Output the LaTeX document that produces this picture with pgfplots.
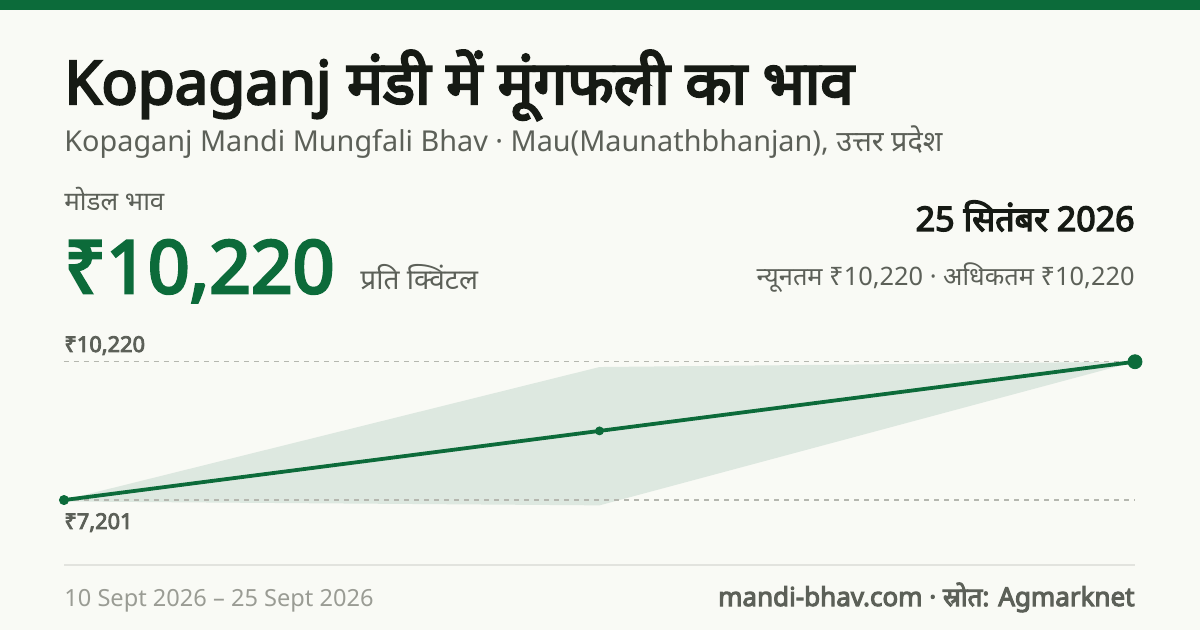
\documentclass[border=0pt]{standalone}
\usepackage{pgfplots}
\pgfplotsset{compat=1.18}
\usepackage{fontspec}
\setmainfont{Noto Sans}[AutoFakeBold=4]
\newfontfamily\dv{Noto Sans}[Script=Devanagari,AutoFakeBold=4]

\definecolor{bgc}{HTML}{F9FAF5}
\definecolor{grn}{HTML}{0C6B3A}
\definecolor{ttl}{HTML}{161A14}
\definecolor{sub}{HTML}{5C6058}
\definecolor{band}{HTML}{DDE8E0}
\definecolor{dashc}{HTML}{B5B7AF}
\definecolor{rule}{HTML}{E2E3DE}
\definecolor{foot}{HTML}{9A9C94}

\begin{document}
\begin{tikzpicture}[x=0.5pt,y=-0.5pt]
  % canvas 1200 x 630 px, 1px = 0.5pt
  \fill[bgc] (0,0) rectangle (1200,630);
  \fill[grn] (0,0) rectangle (1200,10);

  \node[anchor=base west,inner sep=0,text=ttl] at (64,104)
    {\fontsize{30}{32}\selectfont\bfseries Kopaganj {\dv मंडी में मूंगफली का भाव}};
  \node[anchor=base west,inner sep=0,text=sub] at (64,152)
    {\fontsize{14.4}{16}\selectfont Kopaganj Mandi Mungfali Bhav · Mau(Maunathbhanjan), {\dv उत्तर प्रदेश}};
  \node[anchor=base west,inner sep=0,text=sub] at (64,211)
    {\fontsize{13}{15}\selectfont\dv मोडल भाव};
  \node[anchor=base west,inner sep=0,text=grn] at (64,293)
    {\fontsize{36.5}{40}\selectfont\bfseries ₹10,220};
  \node[anchor=base west,inner sep=0,text=sub] at (360,290)
    {\fontsize{14}{16}\selectfont\dv प्रति क्विंटल};

  \node[anchor=base east,inner sep=0,text=ttl] at (1135,231)
    {\fontsize{17}{19}\selectfont\bfseries 25 {\dv सितंबर} 2026};
  \node[anchor=base east,inner sep=0,text=sub] at (1135,286)
    {\fontsize{12.7}{15}\selectfont {\dv न्यूनतम} ₹10,220 · {\dv अधिकतम} ₹10,220};

  \node[anchor=base west,inner sep=0,text=sub] at (64,352)
    {\fontsize{10.9}{12}\selectfont\bfseries ₹10,220};
  \node[anchor=base west,inner sep=0,text=sub] at (64,529)
    {\fontsize{10.9}{12}\selectfont\bfseries ₹7,201};

  \begin{axis}[
    at={(32pt,-261.5pt)}, anchor=south west,
    width=535.5pt, height=87.05pt, scale only axis,
    xmin=0, xmax=2, ymin=6700, ymax=10500,
    hide axis, clip=false]
    % min / max band
    \addplot[fill=band, draw=none] coordinates {
      (0,7201) (1,10104) (2,10220) (2,10220) (1,7085) (0,7170)
    } -- cycle;
    % reference lines at lowest and highest modal price
    \addplot[dashc, line width=0.6pt, dash pattern=on 2.5pt off 2.5pt] coordinates {(0,10220) (2,10220)};
    \addplot[dashc, line width=0.6pt, dash pattern=on 2.5pt off 2.5pt] coordinates {(0,7201) (2,7201)};
    % modal price
    \addplot[grn, line width=1.9pt] coordinates {(0,7201) (1,8710) (2,10220)};
    \addplot[grn, only marks, mark=*, mark size=2.3pt] coordinates {(0,7201)};
    \addplot[grn, only marks, mark=*, mark size=2pt] coordinates {(1,8710)};
    \addplot[grn, only marks, mark=*, mark size=3.5pt] coordinates {(2,10220)};
  \end{axis}

  \draw[rule, line width=1pt] (64,565.5) -- (1135,565.5);
  \node[anchor=base west,inner sep=0,text=foot] at (64,606)
    {\fontsize{11.8}{14}\selectfont 10 Sept 2026 – 25 Sept 2026};
  \node[anchor=base east,inner sep=0,text=sub] at (1135,606)
    {\fontsize{13}{15}\selectfont\bfseries mandi-bhav.com · {\dv स्रोत:} Agmarknet};
\end{tikzpicture}
\end{document}
